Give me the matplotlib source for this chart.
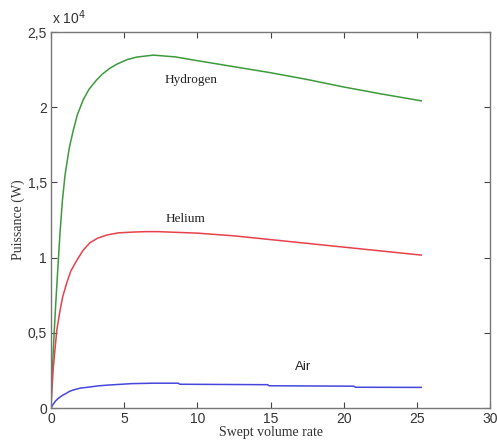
import matplotlib
matplotlib.use("Agg")
import matplotlib.pyplot as plt

# Data (power in units of 1e4 W)
h2_x = [0.0, 0.05, 0.1, 0.16, 0.25, 0.34, 0.45, 0.62, 0.78, 0.96, 1.25, 1.53, 1.8, 2.2, 2.6, 3.1, 3.5, 4.0, 4.5, 5.2,
        5.86, 7.0, 8.5, 10.0, 12.5, 15.0, 17.5, 20.0, 22.5, 25.3]
h2_y = [0.0, 0.15, 0.27, 0.39, 0.56, 0.72, 0.90, 1.17, 1.38, 1.55, 1.73, 1.85, 1.95, 2.05, 2.12, 2.18, 2.22, 2.258, 2.287, 2.317,
        2.334, 2.347, 2.335, 2.31, 2.27, 2.23, 2.185, 2.135, 2.09, 2.043]

he_x = [0.0, 0.05, 0.15, 0.27, 0.4, 0.62, 0.8, 1.07, 1.35, 1.75, 2.2, 2.67, 3.2, 3.8, 4.6, 5.6, 6.5, 7.3,
        10.0, 12.5, 15.0, 17.5, 20.0, 22.5, 25.3]
he_y = [0.0, 0.10, 0.26, 0.386, 0.52, 0.65, 0.74, 0.83, 0.91, 0.98, 1.05, 1.10, 1.13, 1.15, 1.165, 1.17, 1.173, 1.173,
        1.163, 1.145, 1.12, 1.095, 1.07, 1.045, 1.017]

air_x = [0.0, 0.15, 0.3, 0.45, 0.62, 0.8, 1.0, 1.25, 1.53, 2.0, 2.67, 3.3, 4.0, 5.5, 7.0, 8.7, 8.8,
         14.8, 14.9, 20.7, 20.8, 25.3]
air_y = [0.0, 0.025, 0.045, 0.06, 0.073, 0.085, 0.095, 0.11, 0.12, 0.132, 0.14, 0.148, 0.153, 0.162, 0.165, 0.165, 0.158,
         0.155, 0.148, 0.145, 0.138, 0.137]

x_ticks = [0, 5, 10, 15, 20, 25, 30]
y_ticks = [0, 0.5, 1, 1.5, 2, 2.5]
y_tick_labels = ["0", "0,5", "1", "1,5", "2", "2,5"]

fig = plt.figure(figsize=(4.97, 4.46), dpi=100)
ax = fig.add_axes([0.1026, 0.0852, 0.8834, 0.8428])

ax.plot(h2_x, h2_y, color="#3c9a3c", lw=1.1)
ax.plot(he_x, he_y, color="#e8404c", lw=1.1)
ax.plot(air_x, air_y, color="#4646dc", lw=1.1)

ax.set_xlim(0, 30)
ax.set_ylim(0, 2.5)
ax.set_xticks(x_ticks)
ax.set_xticklabels([str(t) for t in x_ticks], family="Liberation Sans", fontsize=10, color="#333333")
ax.set_yticks(y_ticks)
ax.set_yticklabels(y_tick_labels, family="Liberation Sans", fontsize=10, color="#333333")
ax.tick_params(direction="in", top=True, right=True, length=4, width=0.8, color="#444444", pad=3)
for s in ax.spines.values():
    s.set_color("#777777")
    s.set_linewidth(1.0)

ax.set_xlabel("Swept volume rate", family="Liberation Serif", fontsize=10, color="#333333", labelpad=0)
ax.set_ylabel("Puissance (W)", family="Liberation Serif", fontsize=10, color="#333333", labelpad=2)

ax.text(9.6, 2.18, "Hydrogen", family="Liberation Serif", fontsize=9.5, ha="center", va="center", color="#222222")
ax.text(9.2, 1.26, "Helium", family="Liberation Serif", fontsize=9.5, ha="center", va="center", color="#222222")
ax.text(17.2, 0.27, "Air", family="Liberation Sans", fontsize=9.5, ha="center", va="center", color="#222222")

fig.text(52 / 497, 1 - 18 / 446, "x 10$^4$", family="Liberation Sans", fontsize=10, ha="left", va="center", color="#333333")

fig.savefig("out.png", dpi=100)
